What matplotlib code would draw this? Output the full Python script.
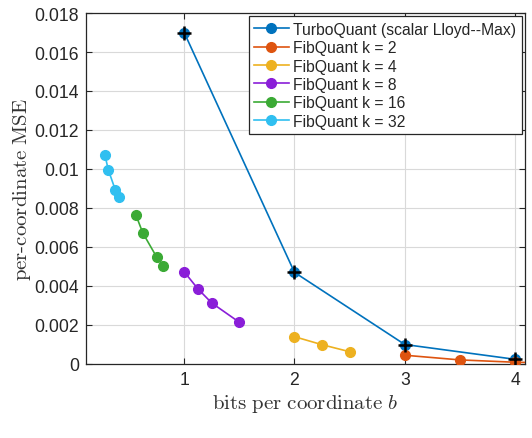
import matplotlib
matplotlib.use("Agg")
import matplotlib.pyplot as plt
from matplotlib.ticker import FixedLocator

plt.rcParams['font.family'] = ['Liberation Sans', 'DejaVu Sans']
plt.rcParams['mathtext.fontset'] = 'cm'

# Data
turbo_b = [1, 2, 3, 4]
turbo_mse = [0.0170, 0.0047, 0.00100, 0.00024]

k2_b = [3, 3.5, 4, 4.5]
k2_mse = [0.00045, 0.00021, 0.00009, 0.00004]

k4_b = [2, 2.25, 2.5]
k4_mse = [0.00140, 0.00099, 0.00063]

k8_b = [1, 1.125, 1.25, 1.5]
k8_mse = [0.00473, 0.00385, 0.00313, 0.00214]

k16_b = [0.5625, 0.625, 0.75, 0.8125]
k16_mse = [0.00764, 0.00672, 0.00549, 0.00504]

k32_b = [0.28125, 0.3125, 0.375, 0.40625]
k32_mse = [0.01072, 0.00995, 0.00894, 0.00855]

series = [
    ("TurboQuant (scalar Lloyd--Max)", turbo_b, turbo_mse, "#0072BD"),
    ("FibQuant k = 2", k2_b, k2_mse, "#DE5410"),
    ("FibQuant k = 4", k4_b, k4_mse, "#EDB120"),
    ("FibQuant k = 8", k8_b, k8_mse, "#8A1ED8"),
    ("FibQuant k = 16", k16_b, k16_mse, "#3BAA35"),
    ("FibQuant k = 32", k32_b, k32_mse, "#30BFF0"),
]

yticks = [0, 0.002, 0.004, 0.006, 0.008, 0.01, 0.012, 0.014, 0.016, 0.018]
ytick_labels = ["0", "0.002", "0.004", "0.006", "0.008", "0.01", "0.012", "0.014", "0.016", "0.018"]
xticks = [1, 2, 3, 4]
xtick_labels = ["1", "2", "3", "4"]

fig = plt.figure(figsize=(5.32, 4.39), dpi=100)
ax = fig.add_axes([86/532, 1-365/439, (525-86)/532, (365-14)/439])

for label, b, m, c in series:
    ax.plot(b, m, '-o', color=c, lw=1.2, ms=7, label=label, zorder=3)

ax.plot(turbo_b, turbo_mse, '+', color='black', ms=10, mew=1.8, zorder=4)

ax.set_xlim(0.11, 4.09)
ax.set_ylim(0, 0.018)
ax.xaxis.set_major_locator(FixedLocator(xticks))
ax.set_xticklabels(xtick_labels)
ax.yaxis.set_major_locator(FixedLocator(yticks))
ax.set_yticklabels(ytick_labels)
ax.tick_params(direction='in', top=True, right=True, length=4, width=0.8,
               labelsize=12.7, colors='#262626', labelcolor='#262626', pad=5)
ax.grid(True, color='#d9d9d9', lw=0.8)
ax.set_axisbelow(True)
for s in ax.spines.values():
    s.set_color('#262626')
    s.set_linewidth(0.9)

ax.set_xlabel(r"$\mathrm{bits\ per\ coordinate}\ b$", fontsize=15, color='#333333', labelpad=3)
ax.set_ylabel(r"$\mathrm{per\text{-}coordinate\ MSE}$", fontsize=15, color='#333333', labelpad=1)

leg = ax.legend(loc='upper right', fontsize=11.3, frameon=True, fancybox=False,
                edgecolor='#262626', framealpha=1, borderaxespad=0.2,
                handlelength=2.2, handletextpad=0.3, labelspacing=0.22,
                borderpad=0.35)
leg.get_frame().set_linewidth(0.9)
for t in leg.get_texts():
    t.set_color('#262626')

fig.savefig("out.png", dpi=100)
